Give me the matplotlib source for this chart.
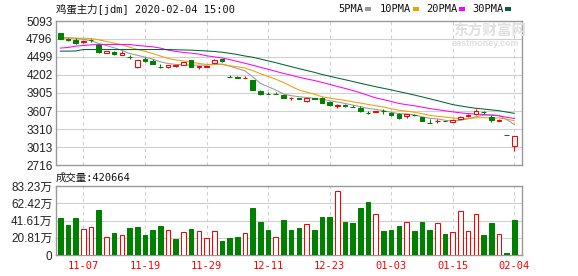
import matplotlib
matplotlib.use("Agg")
import matplotlib.pyplot as plt
from matplotlib.patches import Rectangle
import numpy as np

# ---------------- data ----------------
dates = ["11-04", "11-05", "11-06", "11-07", "11-08", "11-11", "11-12", "11-13", "11-14", "11-15",
         "11-18", "11-19", "11-20", "11-21", "11-22", "11-25", "11-26", "11-27", "11-28", "11-29",
         "12-02", "12-03", "12-04", "12-05", "12-06", "12-09", "12-10", "12-11", "12-12", "12-13",
         "12-16", "12-17", "12-18", "12-19", "12-20", "12-23", "12-24", "12-25", "12-26", "12-27",
         "12-30", "12-31", "01-02", "01-03", "01-06", "01-07", "01-08", "01-09", "01-10", "01-13",
         "01-14", "01-15", "01-16", "01-17", "01-20", "01-21", "01-22", "01-23", "02-03", "02-04"]

opens = [4899, 4790, 4774, 4742, 4776, 4704, 4563, 4584, 4530, 4503,
         4334, 4470, 4432, 4341, 4329, 4343, 4367, 4443, 4334, 4334,
         4400, 4465, 4168, 4162, 4157, 4126, 3937, 3890, 3890, 3872,
         3816, 3818, 3780, 3815, 3818, 3758, 3698, 3702, 3674, 3661,
         3582, 3591, 3604, 3580, 3553, 3525, 3540, 3509, 3412, 3440,
         3444, 3432, 3470, 3525, 3564, 3594, 3514, 3443, 3208, 3022]
highs = [4902, 4812, 4812, 4774, 4801, 4708, 4600, 4590, 4595, 4530,
         4446, 4492, 4465, 4389, 4367, 4362, 4416, 4450, 4354, 4358,
         4470, 4470, 4196, 4188, 4185, 4126, 3953, 3921, 3921, 3875,
         3845, 3818, 3820, 3825, 3845, 3775, 3731, 3726, 3704, 3683,
         3600, 3612, 3635, 3596, 3570, 3562, 3550, 3515, 3470, 3470,
         3446, 3481, 3525, 3564, 3635, 3613, 3536, 3470, 3208, 3190]
lows = [4796, 4758, 4720, 4725, 4742, 4563, 4558, 4525, 4528, 4470,
        4318, 4416, 4378, 4318, 4318, 4329, 4362, 4330, 4302, 4330,
        4395, 4416, 4163, 4157, 4157, 3953, 3872, 3882, 3886, 3820,
        3786, 3808, 3758, 3800, 3742, 3683, 3661, 3672, 3672, 3585,
        3560, 3585, 3564, 3520, 3470, 3492, 3528, 3437, 3408, 3404,
        3438, 3430, 3468, 3503, 3536, 3564, 3426, 3437, 3205, 2945]
closes = [4801, 4774, 4725, 4758, 4772, 4584, 4595, 4541, 4563, 4499,
          4443, 4432, 4383, 4337, 4364, 4360, 4410, 4334, 4350, 4356,
          4443, 4432, 4163, 4157, 4160, 3953, 3888, 3882, 3886, 3823,
          3820, 3808, 3818, 3810, 3742, 3700, 3703, 3698, 3672, 3607,
          3578, 3608, 3600, 3536, 3492, 3558, 3535, 3437, 3410, 3444,
          3440, 3454, 3509, 3542, 3602, 3590, 3462, 3466, 3205, 3190]

# volume in units of 万 (10k)
volumes = [44.8, 36.4, 44.8, 31.2, 33.6, 54.4, 21.6, 26.8, 24.4, 32.8,
           33.6, 24.4, 30.4, 35.2, 30.0, 19.6, 27.6, 31.6, 28.8, 20.4,
           28.8, 17.2, 20.8, 22.0, 26.8, 56.8, 40.0, 30.4, 21.6, 42.4,
           30.4, 32.8, 37.6, 30.4, 46.0, 46.0, 76.8, 40.0, 38.0, 56.8,
           64.0, 49.6, 29.2, 30.4, 35.2, 40.0, 29.2, 40.0, 30.4, 38.8,
           25.6, 28.0, 53.2, 29.2, 49.6, 24.4, 38.8, 25.6, 2.8, 42.0664]

ma5 = [4822, 4818, 4808, 4790, 4766, 4723, 4687, 4650, 4611, 4556,
       4528, 4496, 4464, 4419, 4391, 4376, 4372, 4362, 4365, 4363,
       4379, 4383, 4348, 4309, 4270, 4172, 4063, 4008, 3954, 3887,
       3860, 3844, 3831, 3816, 3800, 3778, 3756, 3732, 3705, 3678,
       3651, 3633, 3613, 3586, 3563, 3559, 3544, 3512, 3486, 3477,
       3454, 3438, 3453, 3479, 3511, 3539, 3543, 3534, 3466, 3384]
ma10 = [4810, 4810, 4810, 4810, 4804, 4782, 4755, 4728, 4700, 4661,
        4625, 4591, 4557, 4515, 4474, 4452, 4434, 4413, 4392, 4377,
        4377, 4377, 4355, 4337, 4317, 4275, 4223, 4178, 4132, 4078,
        4016, 3954, 3919, 3885, 3843, 3819, 3800, 3782, 3760, 3739,
        3715, 3695, 3673, 3645, 3620, 3605, 3588, 3562, 3536, 3520,
        3507, 3491, 3482, 3483, 3494, 3497, 3490, 3493, 3473, 3447]
ma20 = [4646, 4656, 4678, 4689, 4700, 4706, 4706, 4706, 4706, 4706,
        4689, 4678, 4667, 4646, 4613, 4591, 4574, 4563, 4547, 4519,
        4501, 4484, 4456, 4426, 4395, 4364, 4328, 4296, 4262, 4228,
        4197, 4165, 4137, 4111, 4080, 4047, 4012, 3980, 3946, 3908,
        3865, 3824, 3796, 3765, 3732, 3712, 3694, 3672, 3648, 3629,
        3611, 3593, 3577, 3564, 3557, 3551, 3539, 3528, 3504, 3484]
ma30 = [4596, 4596, 4598, 4622, 4622, 4622, 4622, 4622, 4622, 4622,
        4622, 4622, 4622, 4622, 4622, 4618, 4615, 4612, 4605, 4598,
        4590, 4578, 4560, 4540, 4515, 4495, 4465, 4435, 4405, 4372,
        4340, 4307, 4277, 4246, 4211, 4182, 4152, 4124, 4095, 4065,
        4036, 4008, 3982, 3956, 3927, 3900, 3871, 3841, 3809, 3779,
        3746, 3713, 3691, 3671, 3652, 3640, 3626, 3612, 3590, 3569]

price_ticks = [5093, 4796, 4499, 4202, 3905, 3607, 3310, 3013, 2716]
vol_ticks = [0, 20.81, 41.61, 62.42, 83.23]
vol_tick_labels = ["0", "20.81万", "41.61万", "62.42万", "83.23万"]
label_idx = [3, 11, 19, 27, 35, 43, 51, 59]
ma_names = ["5PMA", "10PMA", "20PMA", "30PMA"]
title_text = "鸡蛋主力[jdm] 2020-02-04 15:00"
vol_title = "成交量:420664"

# ---------------- style ----------------
W, H = 578, 276
RED = "#ff0000"
GREEN = "#008000"
GRID = "#d0d0d0"
FRAME = "#999999"
ma_colors = ["#999999", "#f0a000", "#ff00ff", "#006633"]
MONO = ["DejaVu Sans Mono", "Noto Sans CJK SC"]
SANS = ["Liberation Sans", "Noto Sans CJK SC"]

fig = plt.figure(figsize=(W / 100, H / 100), dpi=100)
fig.patch.set_facecolor("white")


def fx(px):
    return px / W


def fy(py):
    return 1 - py / H


L, R = 56, 522
ax = fig.add_axes([fx(L), fy(165), fx(R - L), (165 - 21) / H])
axv = fig.add_axes([fx(L), fy(255), fx(R - L), (255 - 186) / H])

n = len(closes)
x = np.arange(n)
xlim = (-0.56, n - 0.0)
bw = 0.6

for a in (ax, axv):
    a.set_xlim(*xlim)
    for s in a.spines.values():
        s.set_color(FRAME)
        s.set_linewidth(1.0)
    a.tick_params(length=0)
    for i in label_idx:
        a.axvline(i, color=GRID, lw=0.8, ls=(0, (3, 3)), zorder=0)

# ---------------- price panel ----------------
ax.set_ylim(price_ticks[-1], price_ticks[0])
ax.set_yticks(price_ticks)
ax.set_yticklabels([str(t) for t in price_ticks], family=SANS, fontsize=8.5, color="#222222")
ax.tick_params(axis="y", pad=2.5)
ax.set_xticks([])
for t in price_ticks[1:-1]:
    ax.axhline(t, color=GRID, lw=0.8, zorder=0)

ma_list = [ma5, ma10, ma20, ma30]
for vals, col in zip(ma_list, ma_colors):
    ax.plot(x, vals, color=col, lw=0.75, zorder=2)

for i in range(n):
    o, h, l, c = opens[i], highs[i], lows[i], closes[i]
    up = c >= o
    col = RED if up else GREEN
    ax.vlines(i, l, h, color=col, lw=0.75, zorder=3)
    bottom = min(o, c)
    height = max(abs(c - o), 2)
    ax.bar(i, height, bottom=bottom, width=bw,
           facecolor="white" if up else GREEN, edgecolor=col, lw=0.75, zorder=4)

# watermark
fig.text(fx(453), fy(32), "东方财富网", family=SANS, fontsize=10.5, color="#e0e0e0",
         weight="bold", va="center", ha="left")
fig.text(fx(452), fy(44), "eastmoney.com", family=SANS, fontsize=6.5, color="#e0e0e0",
         weight="bold", va="center", ha="left")

# ---------------- volume panel ----------------
axv.set_ylim(0, vol_ticks[-1])
axv.set_yticks(vol_ticks)
axv.set_yticklabels(vol_tick_labels, family=SANS, fontsize=8.5, color="#222222")
axv.tick_params(axis="y", pad=2.5)
for t in vol_ticks[1:-1]:
    axv.axhline(t, color=GRID, lw=0.8, zorder=0)

for i in range(n):
    if i == 0:
        up = closes[i] >= opens[i]
    else:
        up = closes[i] > closes[i - 1]
    col = RED if up else GREEN
    axv.bar(i, volumes[i], width=bw, facecolor="white" if up else GREEN,
            edgecolor=col, lw=0.75, zorder=3)

axv.set_xticks(label_idx)
axv.set_xticklabels([dates[i] for i in label_idx], family=MONO, fontsize=7.5, color=RED)
axv.tick_params(axis="x", pad=4.5)

# ---------------- texts ----------------
fig.text(fx(56), fy(9), title_text, family=MONO, fontsize=7.5, color="#111111",
         va="center", ha="left")
fig.text(fx(56), fy(178), vol_title, family=MONO, fontsize=7.5, color="#111111",
         va="center", ha="left")

leg_x = [338, 380, 426, 472]
mark_x = [365, 413, 459, 505]
for name, tx, mx, col in zip(ma_names, leg_x, mark_x, ma_colors):
    fig.text(fx(tx), fy(9), name, family=MONO, fontsize=7.5, color="#111111",
             va="center", ha="left")
    fig.add_artist(Rectangle((fx(mx), fy(10.5)), 6 / W, 3 / H, transform=fig.transFigure,
                             facecolor=col, edgecolor="none"))

fig.savefig("out.png", dpi=100, facecolor="white")
